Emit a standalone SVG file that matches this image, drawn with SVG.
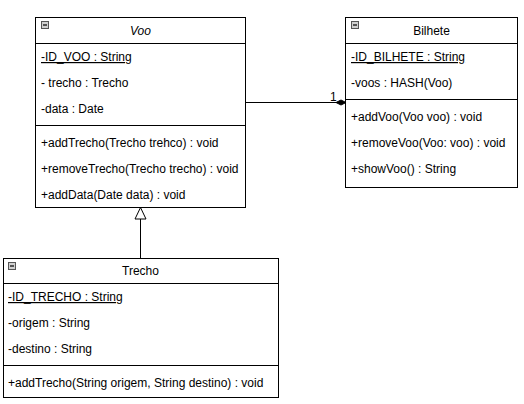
<svg xmlns="http://www.w3.org/2000/svg" width="524" height="404" viewBox="0 0 524 404">
<style>
.box{fill:#ffffff;stroke:#000000;stroke-width:1}
.sep{stroke:#000000;stroke-width:1}
.t{font-family:"Liberation Sans",Arial,sans-serif;font-size:12px;fill:#000000}
.title{text-anchor:middle}
.st{text-decoration:underline}
.ic{fill:#d0d0d0;stroke:#555555;stroke-width:1}
.icm{stroke:#000000;stroke-width:1.2}
.edge{fill:none;stroke:#000000;stroke-width:1}
</style>
<rect width="524" height="404" fill="#ffffff"/>
<g id="connectors">
  <line class="edge" x1="245.5" y1="102.5" x2="345.5" y2="102.5"/>
  <path d="M336 102.5 L341 100 L346 102.5 L341 105 Z" fill="#000000" stroke="#000000" stroke-width="1"/>
  <text class="t" x="330" y="101" fill="#1a0a4a">1</text>
  <line class="edge" x1="140.5" y1="258" x2="140.5" y2="219"/>
  <path d="M140.5 207.5 L146 219 L135 219 Z" fill="#ffffff" stroke="#000000" stroke-width="1"/>
</g>
<g id="voo">
  <rect class="box" x="35.5" y="17.5" width="210" height="190"/>
  <line class="sep" x1="35.5" y1="43.5" x2="245.5" y2="43.5"/>
  <line class="sep" x1="35.5" y1="125.5" x2="245.5" y2="125.5"/>
  <rect class="ic" x="41.5" y="21.5" width="7" height="7"/>
  <line class="icm" x1="43" y1="25" x2="47" y2="25"/>
  <text class="t title" x="140.5" y="35" font-style="italic">Voo</text>
  <text class="t st" x="41" y="61">-ID_VOO : String</text>
  <text class="t" x="41" y="87">- trecho : Trecho</text>
  <text class="t" x="41" y="113">-data : Date</text>
  <text class="t" x="41" y="147">+addTrecho(Trecho trehco) : void</text>
  <text class="t" x="41" y="173">+removeTrecho(Trecho trecho) : void</text>
  <text class="t" x="41" y="199">+addData(Date data) : void</text>
</g>
<g id="bilhete">
  <rect class="box" x="345.5" y="17.5" width="172" height="170"/>
  <line class="sep" x1="345.5" y1="43.5" x2="517.5" y2="43.5"/>
  <line class="sep" x1="345.5" y1="99.5" x2="517.5" y2="99.5"/>
  <rect class="ic" x="351.5" y="21.5" width="7" height="7"/>
  <line class="icm" x1="353" y1="25" x2="357" y2="25"/>
  <text class="t title" x="431.5" y="35">Bilhete</text>
  <text class="t st" x="351" y="61">-ID_BILHETE : String</text>
  <text class="t" x="351" y="87">-voos : HASH(Voo)</text>
  <text class="t" x="351" y="121">+addVoo(Voo voo) : void</text>
  <text class="t" x="351" y="147">+removeVoo(Voo: voo) : void</text>
  <text class="t" x="351" y="173">+showVoo() : String</text>
</g>
<g id="trecho">
  <rect class="box" x="3.5" y="258.5" width="275" height="139"/>
  <line class="sep" x1="3.5" y1="283.5" x2="278.5" y2="283.5"/>
  <line class="sep" x1="3.5" y1="365.5" x2="278.5" y2="365.5"/>
  <rect class="ic" x="8.5" y="262.5" width="7" height="7"/>
  <line class="icm" x1="10" y1="266" x2="14" y2="266"/>
  <text class="t title" x="140.5" y="275">Trecho</text>
  <text class="t st" x="8" y="301">-ID_TRECHO : String</text>
  <text class="t" x="8" y="327">-origem : String</text>
  <text class="t" x="8" y="353">-destino : String</text>
  <text class="t" x="8" y="387">+addTrecho(String origem, String destino) : void</text>
</g>
</svg>
